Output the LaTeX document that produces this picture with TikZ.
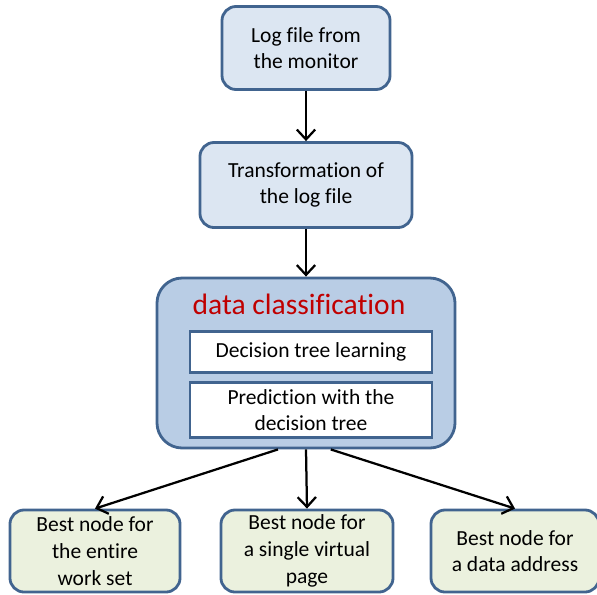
\documentclass[tikz,border=0pt]{standalone}
\usepackage{fontspec}
\setmainfont[Ligatures=NoCommon]{Carlito}
\usetikzlibrary{arrows.meta}
\definecolor{boxline}{HTML}{41648F}
\definecolor{lightblue}{HTML}{DCE6F2}
\definecolor{midblue}{HTML}{B9CDE5}
\definecolor{lightgreen}{HTML}{EBF1DE}
\definecolor{titlered}{HTML}{C00000}
\begin{document}
\begin{tikzpicture}[x=0.025cm, y=-0.025cm,
    stepbox/.style={draw=boxline, line width=2pt, rounded corners=10pt, fill=lightblue,
        align=center, font=\fontsize{15.3}{19}\selectfont, inner sep=0pt},
    innerbox/.style={draw=boxline, line width=2pt, fill=white,
        align=center, font=\fontsize{15.3}{19}\selectfont, inner sep=0pt},
    resultbox/.style={stepbox, fill=lightgreen},
    flow/.style={-{Straight Barb[length=7pt,width=13pt,line width=1.6pt]}, line width=1.6pt, black}]
        \useasboundingbox (0,0) rectangle (597,594);

        % Étapes du haut
        \node[stepbox, minimum width=4.2cm, minimum height=2.075cm] (log) at (306,48) {Log file from\\the monitor};
        \node[stepbox, minimum width=5.3cm, minimum height=2.125cm] (trans) at (306,185) {Transformation of\\the log file};

        % Bloc de classification
        \node[stepbox, fill=midblue, minimum width=7.45cm, minimum height=4.25cm, rounded corners=18pt] (dc) at (306,363) {};
        \node[text=titlered, font=\fontsize{21}{24}\selectfont] (title) at (299,304) {data classification};
        \node[innerbox, minimum width=6.05cm, minimum height=1.025cm] (learn) at (311,352) {Decision tree learning};
        \node[innerbox, minimum width=6.05cm, minimum height=1.375cm] (pred) at (311,410) {Prediction with the\\decision tree};

        % Résultats
        \node[resultbox, minimum width=4.25cm, minimum height=2.05cm] (best1) at (95,551) {Best node for\\the entire\\work set};
        \node[resultbox, minimum width=4.3cm, minimum height=2.05cm] (best2) at (307,551) {Best node for\\a single virtual\\page};
        \node[resultbox, minimum width=4.2cm, minimum height=2.05cm] (best3) at (515,551) {Best node for\\a data address};

        % Flèches
        \draw[flow] (log) -- (trans);
        \draw[flow] (trans) -- (dc);
        \draw[flow] (dc.252) -- (best1.north);
        \draw[flow] (dc.south) -- (best2.north);
        \draw[flow] (dc.286) -- (best3.north);

    \end{tikzpicture}
\end{document}
